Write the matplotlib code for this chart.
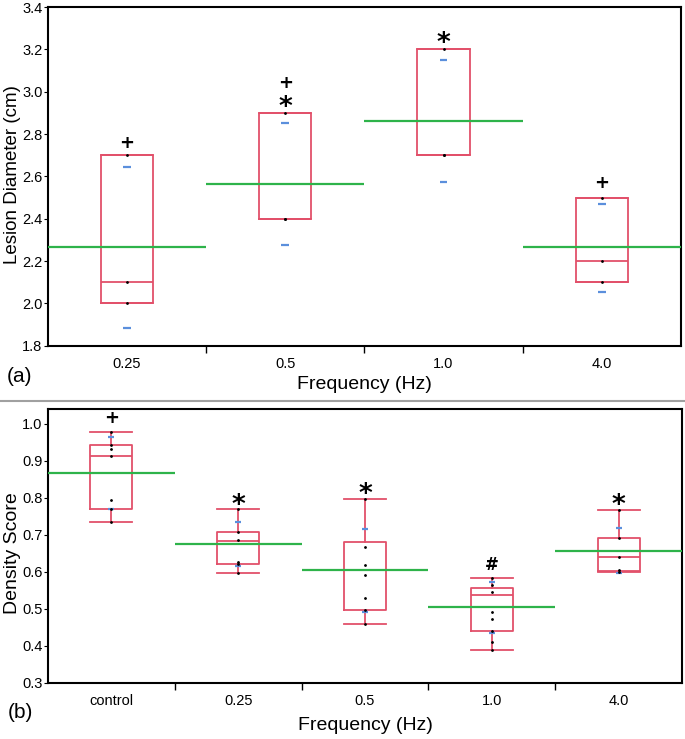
import matplotlib.pyplot as plt
from matplotlib.lines import Line2D

plt.rcParams['font.family'] = ['Liberation Sans', 'DejaVu Sans']

# ---- panel (a): lesion diameter ----
a_labels = ['0.25', '0.5', '1.0', '4.0']
a_q1 = [2.0, 2.4, 2.7, 2.1]
a_med = [2.1, 2.4, 2.7, 2.2]
a_q3 = [2.7, 2.9, 3.2, 2.5]
a_mean = [2.265, 2.563, 2.864, 2.265]
a_ci_lo = [1.884, 2.274, 2.575, 2.055]
a_ci_hi = [2.643, 2.854, 3.152, 2.472]
a_points = [[2.0, 2.1, 2.7], [2.4, 2.4, 2.9], [2.7, 2.7, 3.2], [2.1, 2.2, 2.5]]
a_marks = [['+'], ['*', '+'], ['*'], ['+']]
a_mark_y = [[2.76], [2.962, 3.043], [3.264], [2.567]]

# ---- panel (b): density score ----
b_labels = ['control', '0.25', '0.5', '1.0', '4.0']
b_lo = [0.736, 0.598, 0.459, 0.388, 0.600]
b_q1 = [0.771, 0.621, 0.496, 0.441, 0.603]
b_med = [0.914, 0.683, 0.606, 0.537, 0.639]
b_q3 = [0.942, 0.708, 0.680, 0.556, 0.692]
b_hi = [0.979, 0.769, 0.797, 0.583, 0.768]
b_mean = [0.867, 0.675, 0.604, 0.505, 0.657]
b_ci_lo = [0.770, 0.617, 0.492, 0.436, 0.596]
b_ci_hi = [0.964, 0.735, 0.717, 0.574, 0.718]
b_points = [[0.736, 0.771, 0.795, 0.914, 0.932, 0.942, 0.979],
            [0.598, 0.621, 0.628, 0.686, 0.708, 0.769],
            [0.459, 0.496, 0.529, 0.592, 0.620, 0.668, 0.797],
            [0.388, 0.412, 0.441, 0.472, 0.492, 0.547, 0.565, 0.583],
            [0.600, 0.605, 0.639, 0.692, 0.768]]
b_marks = ['+', '*', '*', '#', '*']
b_mark_y = [1.015, 0.80, 0.83, 0.62, 0.80]

RED = '#e2506a'
GREEN = '#2eb34a'
BLUE = '#5b8fdc'
MARK_SIZE = {'+': 13, '*': 19, '#': 12}
MARK_DY = {'+': 0.0, '*': -0.3, '#': 0.0}  # asterisk glyph sits high, pull it down


def draw_panel(ax, labels, lo, q1, med, q3, hi, mean, ci_lo, ci_hi, points,
               marks, mark_y, dash_half):
    n = len(labels)
    stats = []
    for i in range(n):
        stats.append({'whislo': lo[i], 'q1': q1[i], 'med': med[i],
                      'q3': q3[i], 'whishi': hi[i]})
    pos = list(range(n))
    ax.bxp(stats, positions=pos, widths=0.33, capwidths=0.33,
           showfliers=False, manage_ticks=False,
           boxprops=dict(color=RED, lw=1.3),
           whiskerprops=dict(color=RED, lw=1.3),
           capprops=dict(color=RED, lw=1.3),
           medianprops=dict(color=RED, lw=1.3))
    for i in range(n):
        ax.hlines(mean[i], i - 0.5, i + 0.5, color=GREEN, lw=1.6, zorder=3)
        ax.hlines([ci_lo[i], ci_hi[i]], i - dash_half, i + dash_half,
                  color=BLUE, lw=1.6, zorder=4)
        ax.plot([i] * len(points[i]), points[i], 'o', ms=1.0, color='black',
                zorder=5)
        for m, y in zip(marks[i], mark_y[i]):
            size = MARK_SIZE[m]
            ax.annotate(m, (i, y), xytext=(0, MARK_DY[m] * size),
                        textcoords='offset points', ha='center', va='center',
                        fontsize=size, fontweight='bold', family='DejaVu Sans')
    ax.set_xlim(-0.5, n - 0.5)
    ax.set_xticks([i + 0.5 for i in range(n - 1)])
    ax.set_xticklabels([])
    ax.set_xticks(pos, minor=True)
    ax.set_xticklabels(labels, minor=True)
    ax.tick_params(axis='x', which='major', length=5, width=1, direction='out')
    ax.tick_params(axis='x', which='minor', length=0, pad=8, labelsize=10.5)
    ax.tick_params(axis='y', length=3, pad=1, labelsize=10.5)
    for s in ax.spines.values():
        s.set_linewidth(1.5)


fig = plt.figure(figsize=(6.85, 7.39), dpi=100)
ax1 = fig.add_axes([0.070, 0.532, 0.924, 0.4585])
ax2 = fig.add_axes([0.070, 0.0758, 0.9256, 0.3707])

draw_panel(ax1, a_labels, a_q1, a_q1, a_med, a_q3, a_q3, a_mean, a_ci_lo,
           a_ci_hi, a_points, a_marks, a_mark_y, 0.025)
ax1.set_ylim(1.8, 3.4)
ax1.set_yticks([1.8, 2.0, 2.2, 2.4, 2.6, 2.8, 3.0, 3.2, 3.4])
ax1.set_ylabel('Lesion Diameter (cm)', fontsize=13.5)
ax1.yaxis.set_label_coords(-0.043, 0.506)
ax1.set_xlabel('Frequency (Hz)', fontsize=14)
ax1.xaxis.set_label_coords(0.5, -0.09)

draw_panel(ax2, b_labels, b_lo, b_q1, b_med, b_q3, b_hi, b_mean, b_ci_lo,
           b_ci_hi, b_points, [[m] for m in b_marks], [[y] for y in b_mark_y],
           0.024)
ax2.set_ylim(0.3, 1.04)
ax2.set_yticks([0.3, 0.4, 0.5, 0.6, 0.7, 0.8, 0.9, 1.0])
ax2.set_ylabel('Density Score', fontsize=14)
ax2.yaxis.set_label_coords(-0.042, 0.474)
ax2.set_xlabel('Frequency (Hz)', fontsize=14)
ax2.xaxis.set_label_coords(0.5, -0.125)

fig.text(19 / 685, 1 - 376 / 739, '(a)', fontsize=15, ha='center', va='center')
fig.text(20 / 685, 1 - 712 / 739, '(b)', fontsize=15, ha='center', va='center')
fig.add_artist(Line2D([0, 1], [1 - 401 / 739] * 2, transform=fig.transFigure,
                      color='#a0a0a0', lw=1.5))

fig.savefig('out.png', dpi=100)
